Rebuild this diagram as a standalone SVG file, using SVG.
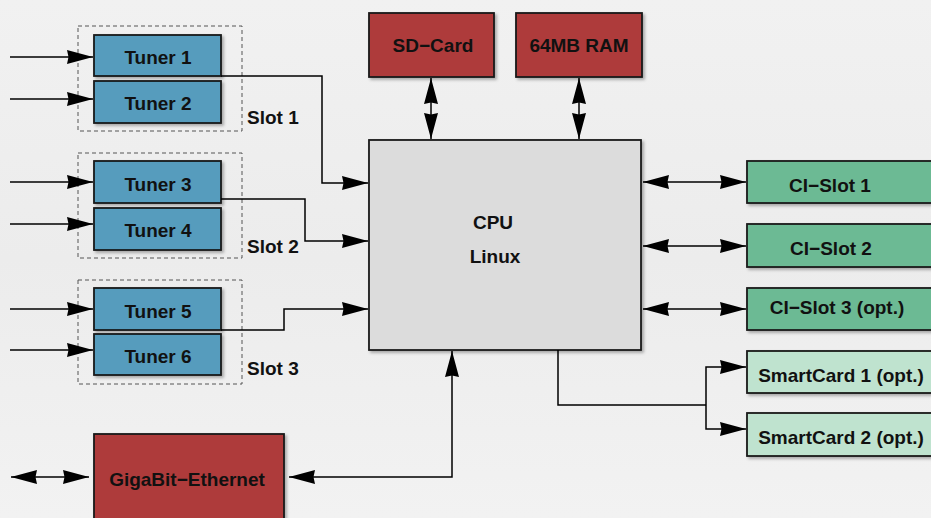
<svg xmlns="http://www.w3.org/2000/svg" width="931" height="518" viewBox="0 0 931 518">
<defs>
<linearGradient id="bg" x1="0" y1="0" x2="0" y2="1">
<stop offset="0" stop-color="#f1f1f1"/>
<stop offset="0.5" stop-color="#ececec"/>
<stop offset="1" stop-color="#f2f2f2"/>
</linearGradient>
<filter id="sh" x="-10%" y="-10%" width="130%" height="130%">
<feDropShadow dx="2" dy="2" stdDeviation="1.5" flood-color="#000" flood-opacity="0.3"/>
</filter>
<marker id="ah" viewBox="0 0 26 14" refX="26" refY="7" markerWidth="26" markerHeight="14" markerUnits="userSpaceOnUse" orient="auto-start-reverse">
<path d="M0,0 L26,7 L0,14 L1.5,7 Z" fill="#000"/>
</marker>
</defs>
<style>
.box{stroke:#1a1a1a;stroke-width:1.8;filter:url(#sh)}
.tuner{fill:#569cbd}
.red{fill:#ae3a3a}
.ci{fill:#6cba94}
.sc{fill:#bfe3cf}
.cpu{fill:#dcdcdc}
.slot{fill:none;stroke:#555;stroke-width:1;stroke-dasharray:4,3}
text{font-family:"Liberation Sans",Arial,sans-serif;font-weight:bold;font-size:19px;fill:#111;text-anchor:middle;dominant-baseline:central}
.lbl{text-anchor:start}
.c{fill:none;stroke:#000;stroke-width:1.5}
.a{marker-end:url(#ah)}
.d{marker-start:url(#ah);marker-end:url(#ah)}
</style>
<rect width="931" height="518" fill="url(#bg)"/>
<g id="slot1"><rect class="slot" x="78" y="26" width="164" height="105"/><text class="lbl" x="247" y="117">Slot 1</text></g>
<g id="slot2"><rect class="slot" x="78" y="153" width="164" height="105"/><text class="lbl" x="247" y="246">Slot 2</text></g>
<g id="slot3"><rect class="slot" x="78" y="280" width="164" height="104"/><text class="lbl" x="247" y="368">Slot 3</text></g>
<g id="tuner1"><rect class="box tuner" x="94" y="35" width="127" height="41"/><text x="158" y="57">Tuner 1</text></g>
<g id="tuner2"><rect class="box tuner" x="94" y="81" width="127" height="42"/><text x="158" y="103">Tuner 2</text></g>
<g id="tuner3"><rect class="box tuner" x="94" y="161" width="127" height="42"/><text x="158" y="184">Tuner 3</text></g>
<g id="tuner4"><rect class="box tuner" x="94" y="208" width="127" height="42"/><text x="158" y="230">Tuner 4</text></g>
<g id="tuner5"><rect class="box tuner" x="94" y="288" width="127" height="42"/><text x="158" y="311">Tuner 5</text></g>
<g id="tuner6"><rect class="box tuner" x="94" y="334" width="127" height="41"/><text x="158" y="356">Tuner 6</text></g>
<g id="sdcard"><rect class="box red" x="369" y="13" width="125" height="64"/><text x="433" y="45">SD−Card</text></g>
<g id="ram"><rect class="box red" x="516" y="13" width="126" height="64"/><text x="579" y="45">64MB RAM</text></g>
<g id="cpu"><rect class="box cpu" x="369" y="140" width="272" height="210"/><text x="493" y="222">CPU</text><text x="495" y="256">Linux</text></g>
<g id="ci1"><rect class="box ci" x="747" y="161" width="190" height="42"/><text x="830" y="185">CI−Slot 1</text></g>
<g id="ci2"><rect class="box ci" x="747" y="224" width="190" height="43"/><text x="831" y="248">CI−Slot 2</text></g>
<g id="ci3"><rect class="box ci" x="747" y="288" width="190" height="42"/><text x="837" y="307">CI−Slot 3 (opt.)</text></g>
<g id="sc1"><rect class="box sc" x="747" y="351" width="190" height="42"/><text x="841" y="375">SmartCard 1 (opt.)</text></g>
<g id="sc2"><rect class="box sc" x="747" y="413" width="190" height="43"/><text x="841" y="437">SmartCard 2 (opt.)</text></g>
<g id="eth"><rect class="box red" x="94" y="434" width="190" height="100"/><text x="187" y="479">GigaBit−Ethernet</text></g>
<g id="connectors">
<path class="c a" d="M10,57 H93"/>
<path class="c a" d="M10,99 H93"/>
<path class="c a" d="M10,182 H93"/>
<path class="c a" d="M10,224 H93"/>
<path class="c a" d="M10,309 H93"/>
<path class="c a" d="M10,350 H93"/>
<path class="c a" d="M221,76 H322 V183 H368"/>
<path class="c a" d="M221,199 H305 V241 H368"/>
<path class="c a" d="M221,330 H284 V309 H368"/>
<path class="c d" d="M431,78 V139"/>
<path class="c d" d="M579,78 V139"/>
<path class="c d" d="M643,182 H746"/>
<path class="c d" d="M643,246 H746"/>
<path class="c d" d="M643,309 H746"/>
<path class="c" d="M558,350 V405 H706"/>
<path class="c a" d="M706,405 V367 H746"/>
<path class="c a" d="M706,405 V429 H746"/>
<path class="c d" d="M452,351 V477 H289"/>
<path class="c d" d="M11,477 H89"/>
</g>
</svg>
